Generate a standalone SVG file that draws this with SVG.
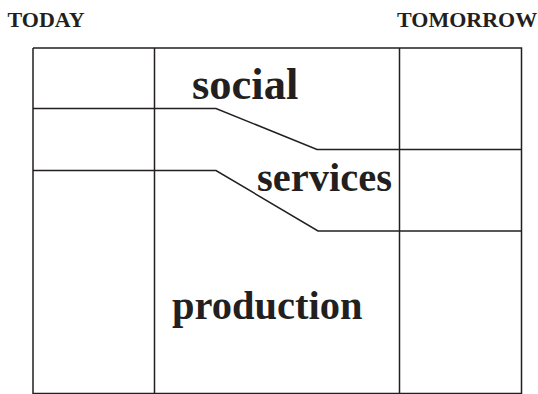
<svg xmlns="http://www.w3.org/2000/svg" width="538" height="394" viewBox="0 0 538 394">
<style>
.ln{stroke:#231f20;stroke-width:1.5;fill:none}
.hd{font-family:"Liberation Serif",serif;font-weight:bold;font-size:22px;fill:#231f20}
.big{font-family:"Liberation Serif",serif;font-weight:bold;font-size:40.5px;fill:#231f20}
</style>
<rect width="538" height="394" fill="#ffffff"/>
<g id="headers">
<text class="hd" x="7.5" y="26.5">TODAY</text>
<text class="hd" x="397" y="26.5">TOMORROW</text>
</g>
<g id="connectors">
<path class="ln" d="M33,48 H521.5 V394 M33,48 V394 M154.5,48 V394 M399.5,48 V394"/>
<path class="ln" d="M33,393.5 H521.5"/>
<path class="ln" d="M33,108.5 H216 L317,149.5 H521.5"/>
<path class="ln" d="M33,170.5 H216 L318,231 H521.5"/>
</g>
<g id="social"><text class="big" x="192" y="98.5" style="font-size:44.5px">social</text></g>
<g id="services"><text class="big" x="257" y="190.5">services</text></g>
<g id="production"><text class="big" x="172" y="319">production</text></g>
</svg>
